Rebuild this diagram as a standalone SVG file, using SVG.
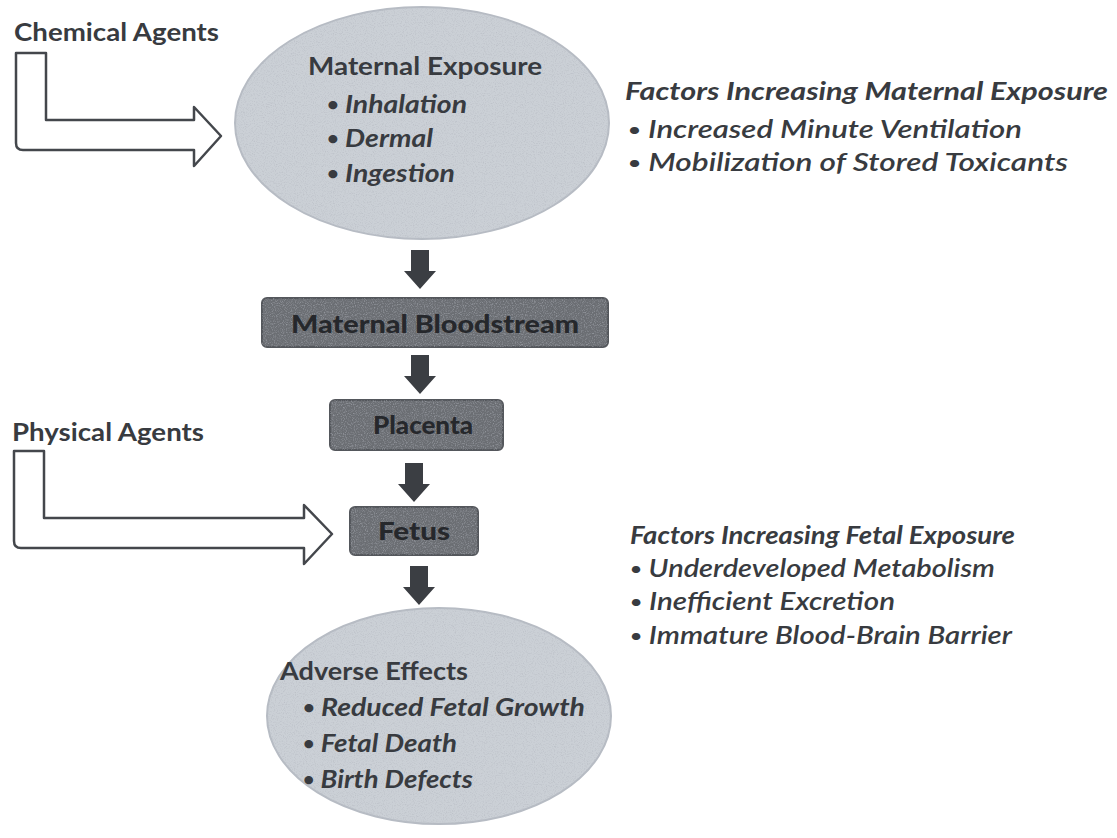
<svg xmlns="http://www.w3.org/2000/svg" width="1117" height="838" viewBox="0 0 1117 838">
<style>
text{font-family:"Lato","Open Sans","Liberation Sans",sans-serif;fill:#383b40;font-weight:700;font-size:25px}
.it{font-style:italic}
.sm{font-size:18px}
.bx{fill:#26282c;text-anchor:middle;font-size:25px;font-weight:900}
.ell{fill:#cbd0d6;stroke:#b7bcc4;stroke-width:2}
.box{fill:#6b6e73;stroke:#54575c;stroke-width:2}
.dn{fill:#3b3e43}
.lar{fill:#ffffff;stroke:#44474c;stroke-width:2.5;stroke-linejoin:round}
</style>
<defs>
<filter id="grain" x="0" y="0" width="100%" height="100%">
<feTurbulence type="fractalNoise" baseFrequency="0.9" numOctaves="2" seed="3" result="n"/>
<feColorMatrix in="n" type="matrix" values="0 0 0 0 0.45  0 0 0 0 0.47  0 0 0 0 0.52  0 0 0 -1.4 0.75" result="g"/>
<feComposite in="g" in2="SourceGraphic" operator="in"/>
</filter>
</defs>
<rect width="1117" height="838" fill="#ffffff"/>

<g id="chemical-agents">
<text x="14" y="41" textLength="205" lengthAdjust="spacingAndGlyphs">Chemical Agents</text>
</g>

<g id="physical-agents">
<text x="12" y="441" textLength="192" lengthAdjust="spacingAndGlyphs">Physical Agents</text>
</g>

<g id="maternal-exposure">
<ellipse class="ell" cx="422" cy="123" rx="187" ry="116"/>
<ellipse cx="422" cy="123" rx="187" ry="116" fill="#000" filter="url(#grain)"/>
<text x="308" y="75" textLength="234" lengthAdjust="spacingAndGlyphs">Maternal Exposure</text>
<text class="it" x="327" y="113" textLength="140" lengthAdjust="spacingAndGlyphs"><tspan class="sm" dy="-2">•</tspan><tspan dy="2"> Inhalation</tspan></text>
<text class="it" x="327" y="147" textLength="106" lengthAdjust="spacingAndGlyphs"><tspan class="sm" dy="-2">•</tspan><tspan dy="2"> Dermal</tspan></text>
<text class="it" x="327" y="182" textLength="128" lengthAdjust="spacingAndGlyphs"><tspan class="sm" dy="-2">•</tspan><tspan dy="2"> Ingestion</tspan></text>
</g>

<g id="maternal-factors">
<text class="it" x="625" y="100" textLength="483" lengthAdjust="spacingAndGlyphs">Factors Increasing Maternal Exposure</text>
<text class="it" x="628" y="138" textLength="394" lengthAdjust="spacingAndGlyphs" style="font-weight:600"><tspan class="sm" dy="-2">•</tspan><tspan dy="2"> Increased Minute Ventilation</tspan></text>
<text class="it" x="628" y="171" textLength="440" lengthAdjust="spacingAndGlyphs" style="font-weight:600"><tspan class="sm" dy="-2">•</tspan><tspan dy="2"> Mobilization of Stored Toxicants</tspan></text>
</g>

<g id="maternal-bloodstream">
<rect class="box" x="262" y="298" width="346" height="49" rx="5"/>
<rect x="262" y="298" width="346" height="49" rx="5" fill="#000" filter="url(#grain)"/>
<text class="bx" x="435" y="333" textLength="288" lengthAdjust="spacingAndGlyphs">Maternal Bloodstream</text>
</g>

<g id="placenta">
<rect class="box" x="330" y="400" width="173" height="50" rx="5"/>
<rect x="330" y="400" width="173" height="50" rx="5" fill="#000" filter="url(#grain)"/>
<text class="bx" x="423" y="434" textLength="100" lengthAdjust="spacingAndGlyphs">Placenta</text>
</g>

<g id="fetus">
<rect class="box" x="350" y="507" width="128" height="48" rx="5"/>
<rect x="350" y="507" width="128" height="48" rx="5" fill="#000" filter="url(#grain)"/>
<text class="bx" x="414" y="540" textLength="72" lengthAdjust="spacingAndGlyphs">Fetus</text>
</g>

<g id="fetal-factors">
<text class="it" x="630" y="544" textLength="385" lengthAdjust="spacingAndGlyphs">Factors Increasing Fetal Exposure</text>
<text class="it" x="630" y="577" textLength="365" lengthAdjust="spacingAndGlyphs" style="font-weight:600"><tspan class="sm" dy="-2">•</tspan><tspan dy="2"> Underdeveloped Metabolism</tspan></text>
<text class="it" x="630" y="610" textLength="265" lengthAdjust="spacingAndGlyphs" style="font-weight:600"><tspan class="sm" dy="-2">•</tspan><tspan dy="2"> Inefficient Excretion</tspan></text>
<text class="it" x="630" y="644" textLength="382" lengthAdjust="spacingAndGlyphs" style="font-weight:600"><tspan class="sm" dy="-2">•</tspan><tspan dy="2"> Immature Blood-Brain Barrier</tspan></text>
</g>

<g id="adverse-effects">
<ellipse class="ell" cx="439" cy="716" rx="172" ry="108"/>
<ellipse cx="439" cy="716" rx="172" ry="108" fill="#000" filter="url(#grain)"/>
<text x="280" y="680" textLength="188" lengthAdjust="spacingAndGlyphs">Adverse Effects</text>
<text class="it" x="303" y="716" textLength="282" lengthAdjust="spacingAndGlyphs"><tspan class="sm" dy="-2">•</tspan><tspan dy="2"> Reduced Fetal Growth</tspan></text>
<text class="it" x="303" y="752" textLength="154" lengthAdjust="spacingAndGlyphs"><tspan class="sm" dy="-2">•</tspan><tspan dy="2"> Fetal Death</tspan></text>
<text class="it" x="303" y="788" textLength="170" lengthAdjust="spacingAndGlyphs"><tspan class="sm" dy="-2">•</tspan><tspan dy="2"> Birth Defects</tspan></text>
</g>

<g id="connectors">
<path class="lar" d="M16,53 L46,53 L46,120 L194,120 L194,107 L221,136 L194,166 L194,150 L23,150 Q16,150 16,143 Z"/>
<path class="lar" d="M14,451 L44,451 L44,518 L304,518 L304,505 L332,534 L304,564 L304,548 L21,548 Q14,548 14,541 Z"/>
<path class="dn" d="M411,250 L429,250 L429,271 L436,271 L420,289 L404,271 L411,271 Z"/>
<path class="dn" d="M411,355 L429,355 L429,376 L436,376 L420,394 L404,376 L411,376 Z"/>
<path class="dn" d="M405,463 L423,463 L423,484 L430,484 L414,502 L398,484 L405,484 Z"/>
<path class="dn" d="M410,566 L428,566 L428,587 L435,587 L419,605 L403,587 L410,587 Z"/>
</g>
</svg>
